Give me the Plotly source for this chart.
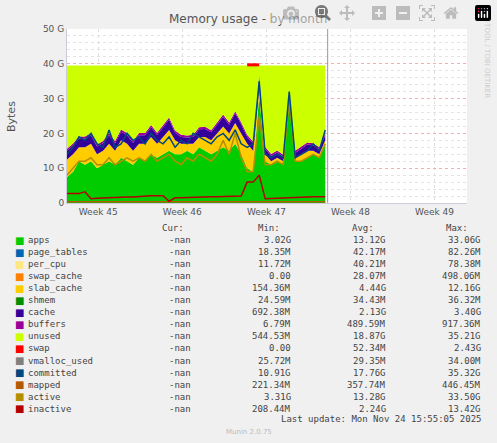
import plotly.graph_objects as go

days = [i * 0.5 for i in range(44)]
apps = [7.5,9,12,11,12,10,11,12,11,13,12,11,
        13,12,14,13,14,15,14,14,15,14,16,15,
        14,15,16,15,17,14,10,9,31,12,11,12,
        11,29,12,12,13,14,13,17]
slab = [5,5,4,5,5,4,4,5,4,5,5,4,
        4,5,5,4,5,6,4,3,2,3,3,4,
        4,5,6,5,6,6,7,6,2,2,1,1,
        1,0.5,1,2,2,1,1,1]
cache = [2.5,2.5,2.5,2.5,2.5,2.2,2.2,2.5,2.2,2.5,2.5,2.3,
         2.5,2.5,2.8,2.6,2.8,3.0,2.2,2.0,1.8,2.0,2.2,2.3,
         2.3,2.5,2.8,2.5,2.8,2.6,2.0,2.0,3.4,1.5,1.5,1.5,
         1.3,1.2,1.4,1.6,1.8,1.6,1.5,1.5]
buffers = [0.6]*44
total = [39.5]*44
committed = [14,16,19,18,20,17,16,21,16,17,20,18,
             19,17,20,18,17,19,16,18,17,20,19,18,
             17,19,20,18,21,17,16,17,35,14,13,14,
             13,32,13,14,15,17,15,21]
active = [8,10,12,12,13,11,11,13,11,12,13,12,
          13,12,14,12,13,14,12,11,13,12,14,13,
          12,14,18,14,20,13,9,9,25,11,11,12,
          11,30,12,12,13,14,13,17]
inactive = [2.7,2.7,2.7,3.2,1.2,1.4,1.5,1.5,1.5,1.7,1.7,1.7,
            1.9,1.9,2.1,2.1,2.1,0.5,1.5,1.5,1.6,1.7,1.7,1.8,
            1.8,1.8,1.9,1.9,2.0,2.0,6,6,8,1.2,1.3,1.4,
            1.5,1.5,1.6,1.7,1.8,1.8,1.8,1.8]
mapped = [0.35]*44
swap = [None]*30 + [39.7,39.7,39.7] + [None]*11

week_pos = [2.6, 9.6, 16.6, 23.6, 30.6]
week_labels = ["Week 45", "Week 46", "Week 47", "Week 48", "Week 49"]

legend_rows = [
    ("apps", "#00CC00", "3.02G", "13.12G", "33.06G"),
    ("page_tables", "#0066B3", "18.35M", "42.17M", "82.26M"),
    ("per_cpu", "#FFE680", "11.72M", "40.21M", "78.38M"),
    ("swap_cache", "#FF8000", "0.00", "28.07M", "498.06M"),
    ("slab_cache", "#FFCC00", "154.36M", "4.44G", "12.16G"),
    ("shmem", "#008F00", "24.59M", "34.43M", "36.32M"),
    ("cache", "#330099", "692.38M", "2.13G", "3.40G"),
    ("buffers", "#990099", "6.79M", "489.59M", "917.36M"),
    ("unused", "#CCFF00", "544.53M", "18.87G", "35.21G"),
    ("swap", "#FF0000", "0.00", "52.34M", "2.43G"),
    ("vmalloc_used", "#808080", "25.72M", "29.35M", "34.00M"),
    ("committed", "#00487D", "10.91G", "17.76G", "35.32G"),
    ("mapped", "#B35A00", "221.34M", "357.74M", "446.45M"),
    ("active", "#B38F00", "3.31G", "13.28G", "33.50G"),
    ("inactive", "#B30000", "208.44M", "2.24G", "13.42G"),
]

fig = go.Figure()
base = [0]*44
def stack(vals, color):
    global base
    top = [b + v for b, v in zip(base, vals)]
    fig.add_trace(go.Scatter(x=days, y=top, mode="lines", line=dict(width=0),
                             fill="tonexty" if any(base) else "tozeroy",
                             fillcolor=color, hoverinfo="skip", showlegend=False))
    base = top

stack(apps, "#00CC00")
stack(slab, "#FFCC00")
stack(cache, "#330099")
stack(buffers, "#990099")
unused = [max(t - b, 0) for t, b in zip(total, base)]
stack(unused, "#CCFF00")

for vals, color, w in [(mapped, "#B35A00", 1.5), (inactive, "#B30000", 1.5),
                       (active, "#B38F00", 1.5), (committed, "#00487D", 1.5),
                       (swap, "#FF0000", 3)]:
    fig.add_trace(go.Scatter(x=days, y=vals, mode="lines", line=dict(color=color, width=w),
                             hoverinfo="skip", showlegend=False))

fig.add_shape(type="line", x0=21.7, x1=21.7, y0=0, y1=50, line=dict(color="#999999", width=1))

def px(x): return (x - 67) / 400
def py(y): return (203 - y) / 174

ann = []
font = dict(family="DejaVu Sans Mono", size=9, color="#444")
def A(**k):
    d = dict(xref="paper", yref="paper", showarrow=False)
    d.update(k)
    ann.append(d)

for txt, xr in [("Cur:", 186), ("Min:", 282), ("Avg:", 376), ("Max:", 470)]:
    A(x=px(xr), y=py(228), text=txt, xanchor="right", yanchor="middle", font=font)
for i, (name, col, mn, av, mx) in enumerate(legend_rows):
    y = 240 + i * 12.05
    A(x=px(13), y=py(y), text="■", xanchor="left", yanchor="middle",
      font=dict(family="DejaVu Sans", size=10, color=col))
    A(x=px(26), y=py(y), text=name, xanchor="left", yanchor="middle", font=font)
    for txt, xr in [("-nan", 193), (mn, 293), (av, 388), (mx, 483)]:
        A(x=px(xr), y=py(y), text=txt, xanchor="right", yanchor="middle", font=font)
A(x=px(483), y=py(419), text="Last update: Mon Nov 24 15:55:05 2025", xanchor="right",
  yanchor="middle", font=font)
A(x=px(249), y=py(432), text="Munin 2.0.75", xanchor="center", yanchor="middle",
  font=dict(family="DejaVu Sans", size=7, color="#bbb"))
A(x=px(11), y=py(116), text="Bytes", textangle=-90, xanchor="center", yanchor="middle",
  font=dict(family="DejaVu Sans", size=11, color="#555"))
A(x=px(487), y=py(6), text="RRDTOOL / TOBI OETIKER", textangle=90, xanchor="center",
  yanchor="top", font=dict(family="DejaVu Sans", size=7, color="#ccc"))
A(x=px(248), y=py(19), text="Memory usage - by month", xanchor="center", yanchor="middle",
  font=dict(family="DejaVu Sans", size=12, color="#555"))

fig.update_layout(
    width=497, height=443, margin=dict(l=67, r=30, t=29, b=240),
    paper_bgcolor="#F0F0F0", plot_bgcolor="#FFFFFF",
    annotations=ann,
    xaxis=dict(range=[0, 33.3], tickvals=week_pos, ticktext=week_labels, showgrid=True,
               gridcolor="#E0E0E0", griddash="dot", zeroline=False, ticks="",
               tickfont=dict(family="DejaVu Sans", size=9, color="#555"),
               showline=True, linecolor="#ccd"),
    yaxis=dict(range=[0, 50], tickvals=[0, 10, 20, 30, 40, 50],
               ticktext=["0", "10 G", "20 G", "30 G", "40 G", "50 G"],
               showgrid=True, gridcolor="#F0B0B0", griddash="dot", zeroline=False,
               tickfont=dict(family="DejaVu Sans", size=9, color="#555"),
               minor=dict(dtick=2, showgrid=True, gridcolor="#E4E4E4", griddash="dot"),
               showline=True, linecolor="#ccd"),
)
fig.write_html("out.html", post_script="document.body.style.margin='0';")
